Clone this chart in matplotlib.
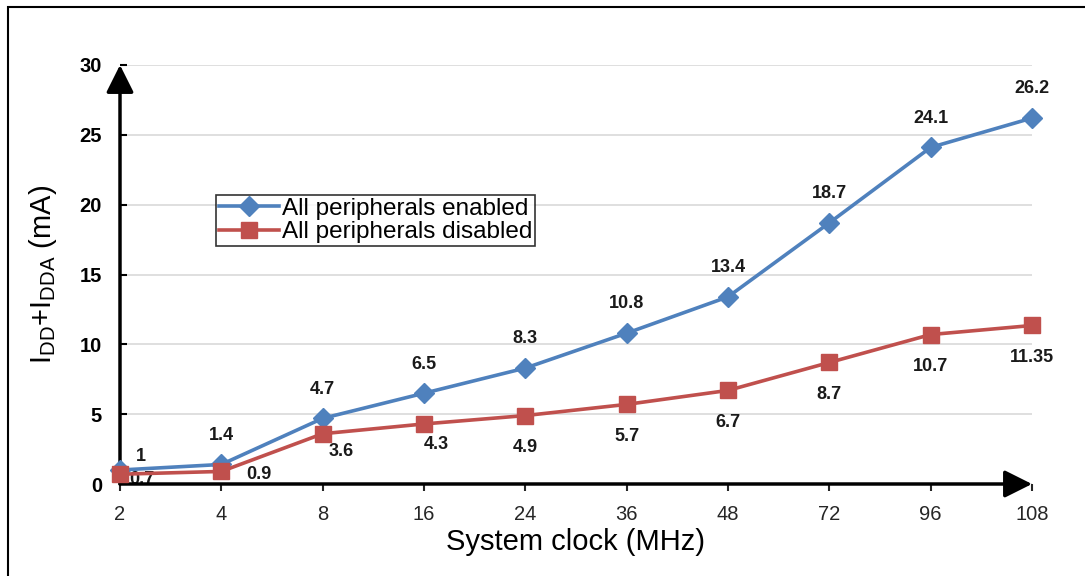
import matplotlib.pyplot as plt
from matplotlib.patches import Rectangle

plt.rcParams['font.family'] = ['Liberation Sans', 'DejaVu Sans']
plt.rcParams['mathtext.fontset'] = 'custom'
plt.rcParams['mathtext.rm'] = 'Liberation Sans'

# ========== DATA ==========
clock_mhz = ['2', '4', '8', '16', '24', '36', '48', '72', '96', '108']
enabled_ma = [1, 1.4, 4.7, 6.5, 8.3, 10.8, 13.4, 18.7, 24.1, 26.2]
disabled_ma = [0.7, 0.9, 3.6, 4.3, 4.9, 5.7, 6.7, 8.7, 10.7, 11.35]
enabled_txt = ['1', '1.4', '4.7', '6.5', '8.3', '10.8', '13.4', '18.7', '24.1', '26.2']
disabled_txt = ['0.7', '0.9', '3.6', '4.3', '4.9', '5.7', '6.7', '8.7', '10.7', '11.35']

BLUE = '#4F81BD'
RED = '#C0504D'

fig = plt.figure(figsize=(10.85, 5.76), dpi=100)
ax = fig.add_axes([120 / 1085, 1 - 484 / 576, 912 / 1085, 419 / 576])

# outer frame (runs off the right / bottom edge)
fig.patches.append(Rectangle((8 / 1085, -0.1), 1.2, 1 - 7 / 576 + 0.1,
                             transform=fig.transFigure, fill=False,
                             edgecolor='black', lw=1.5))

xs = list(range(len(clock_mhz)))
ax.plot(xs, enabled_ma, color=BLUE, lw=2.6, marker='D', ms=10,
        label='All peripherals enabled', zorder=4, clip_on=False)
ax.plot(xs, disabled_ma, color=RED, lw=2.6, marker='s', ms=11.5,
        label='All peripherals disabled', zorder=4, clip_on=False)

# data labels
for i, t in enumerate(enabled_txt):
    dx = 0
    dy = 21
    if i == 0:
        dx, dy = 15, 10
    ax.annotate(t, (xs[i], enabled_ma[i]), xytext=(dx, dy), textcoords='offset points',
                ha='center', va='center', fontsize=13, fontweight='bold', color='#1a1a1a')
for i, t in enumerate(disabled_txt):
    dx = 0
    dy = -23
    if i == 0:
        dx, dy = 16, -4
    elif i == 1:
        dx, dy = 27, -2
    elif i == 2:
        dx, dy = 13, -13
    elif i == 3:
        dx, dy = 9, -15
    ax.annotate(t, (xs[i], disabled_ma[i]), xytext=(dx, dy), textcoords='offset points',
                ha='center', va='center', fontsize=13, fontweight='bold', color='#1a1a1a')

ax.set_xlim(0, 9)
ax.set_ylim(0, 30)
ax.set_xticks(xs)
ax.set_xticklabels(clock_mhz)
ax.set_yticks(range(0, 31, 5))
for lab in ax.get_yticklabels():
    lab.set_fontweight('bold')
ax.tick_params(axis='x', direction='out', length=5, width=1.5, labelsize=14.5,
               pad=10, colors='#262626')
ax.tick_params(axis='y', direction='in', length=5, width=1.5, labelsize=14.5, pad=13)
ax.grid(axis='y', color='#D9D9D9', lw=1.2)
ax.set_axisbelow(True)
for s in ax.spines.values():
    s.set_visible(False)

# arrow axes
ax.annotate('', xy=(0, 30), xytext=(0, 0), xycoords='data',
            arrowprops=dict(arrowstyle='-|>', mutation_scale=42, lw=2.5, color='black',
                            shrinkA=0, shrinkB=0), annotation_clip=False, zorder=3)
ax.annotate('', xy=(9, 0), xytext=(0, 0), xycoords='data',
            arrowprops=dict(arrowstyle='-|>', mutation_scale=42, lw=2.5, color='black',
                            shrinkA=0, shrinkB=0), annotation_clip=False, zorder=3)

ax.set_xlabel('System clock (MHz)', fontsize=21, labelpad=3)
ax.set_ylabel(r'$\mathregular{I_{DD}}$+$\mathregular{I_{DDA}}$ (mA)', fontsize=21, labelpad=15)

leg = ax.legend(loc='upper left', bbox_to_anchor=(0.105, 0.69), fontsize=17.5,
                frameon=True, fancybox=False, edgecolor='black', borderpad=0.12,
                handlelength=2.5, handletextpad=0.1, labelspacing=0.05, borderaxespad=0)
leg.get_frame().set_linewidth(1.2)

fig.savefig('out.png', dpi=100)
